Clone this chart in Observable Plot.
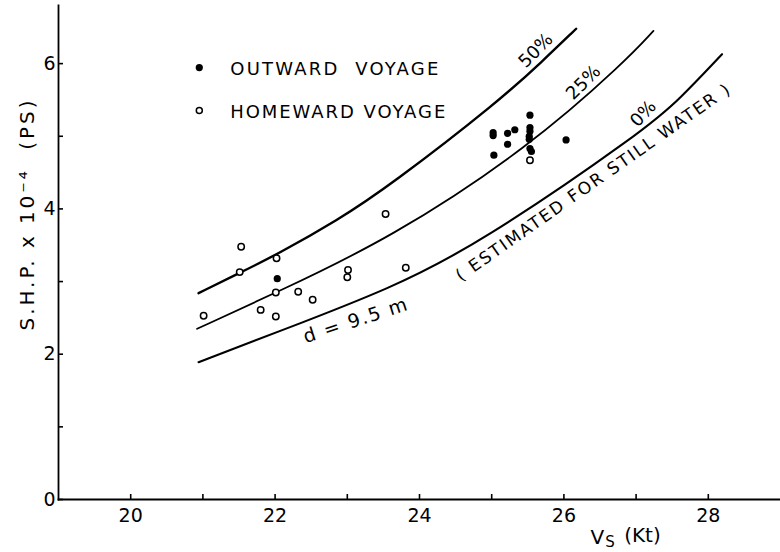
<!DOCTYPE html>
<html><head><meta charset="utf-8">
<script src="https://cdn.jsdelivr.net/npm/d3@7"></script>
<script src="https://cdn.jsdelivr.net/npm/@observablehq/plot@0.6"></script>
<style>
body{margin:0;background:#fff}
#chart svg{font-family:"DejaVu Sans",sans-serif;display:block}
</style>
</head><body><div id="chart"></div>
<script>
// ---- data ----
const xTickValues = [20, 21, 22, 23, 24, 25, 26, 27, 28];
const xTickLabels = [20, 22, 24, 26, 28];
const yTickValues = [0, 1, 2, 3, 4, 5, 6];
const yTickLabels = [0, 2, 4, 6];

const curveLevels = ["50%", "25%", "0%"];
const curve50V = [20.94, 21.51, 22.04, 22.86, 23.59, 25.11, 25.71, 26.17];
const curve50P = [2.84, 3.12, 3.38, 3.84, 4.32, 5.49, 6.04, 6.48];
const curve25V = [20.92, 22.02, 23.59, 25.52, 26.86, 27.24];
const curve25P = [2.35, 2.85, 3.59, 4.85, 6.04, 6.45];
const curve0V  = [20.94, 22.07, 23.59, 24.83, 27.14, 27.60, 28.19];
const curve0P  = [1.89, 2.32, 2.90, 3.52, 5.10, 5.51, 6.13];

const outwardV = [22.03, 25.02, 25.02, 25.22, 25.32, 25.22, 25.03, 25.53, 25.53, 25.53, 25.52, 25.52, 25.53, 25.55, 26.03];
const outwardP = [3.04, 5.05, 5.01, 5.04, 5.09, 4.89, 4.74, 5.29, 5.12, 5.07, 5.00, 4.96, 4.83, 4.79, 4.95];
const homewardV = [21.53, 22.02, 21.51, 22.01, 22.32, 22.52, 21.80, 22.01, 21.01, 23.01, 23.00, 23.81, 23.53, 25.53];
const homewardP = [3.48, 3.32, 3.13, 2.85, 2.86, 2.75, 2.61, 2.52, 2.53, 3.16, 3.06, 3.19, 3.93, 4.67];

const legendLabels = ["OUTWARD\u00a0\u00a0VOYAGE", "HOMEWARD VOYAGE"];
const yLabel = "S.H.P. x 10\u207b\u2074\u00a0 (PS)";
const xLabel = "VS (Kt)";
const noteStill = "( ESTIMATED FOR STILL WATER )";
const noteDraft = "d = 9.5 m";

// ---- tables built from the arrays ----
const curves = [
  ...curve50V.map((v, i) => ({level: curveLevels[0], v, p: curve50P[i]})),
  ...curve25V.map((v, i) => ({level: curveLevels[1], v, p: curve25P[i]})),
  ...curve0V.map((v, i) => ({level: curveLevels[2], v, p: curve0P[i]}))
];
const outward = outwardV.map((v, i) => ({v, p: outwardP[i]}));
const homeward = homewardV.map((v, i) => ({v, p: homewardP[i]}));

// annotation anchors (data units)
const legendAnchors = [{v: 20.95, p: 5.945}, {v: 20.95, p: 5.355}];
const levelLabelAnchors = [
  {text: curveLevels[0], v: 25.61, p: 6.18, r: -45},
  {text: curveLevels[1], v: 26.27, p: 5.74, r: -45},
  {text: curveLevels[2], v: 27.10, p: 5.31, r: -47}
];

const chart = Plot.plot({
  width: 780,
  height: 552,
  marginLeft: 58,
  marginRight: 0,
  marginTop: 5,
  marginBottom: 53,
  x: {domain: [19, 29]},
  y: {domain: [0, 6.8]},
  style: {background: "#fff", color: "#000", fontFamily: "DejaVu Sans"},
  marks: [
    Plot.axisX({ticks: xTickValues, tickSize: -5, tickPadding: 14, fontSize: 19, strokeWidth: 1.6,
      tickFormat: d => xTickLabels.includes(d) ? String(d) : "", label: null}),
    Plot.axisY({ticks: yTickValues, tickSize: -5, tickPadding: 8, fontSize: 19, strokeWidth: 1.6,
      tickFormat: d => yTickLabels.includes(d) ? String(d) : "", label: null}),
    Plot.frame({anchor: "left", strokeWidth: 1.8}),
    Plot.frame({anchor: "bottom", strokeWidth: 1.8}),
    Plot.line(curves.filter(d => d.level === curveLevels[0]), {x: "v", y: "p", curve: "basis", strokeWidth: 2.4}),
    Plot.line(curves.filter(d => d.level === curveLevels[1]), {x: "v", y: "p", curve: "basis", strokeWidth: 1.8}),
    Plot.line(curves.filter(d => d.level === curveLevels[2]), {x: "v", y: "p", curve: "basis", strokeWidth: 2.1}),
    Plot.dot(homeward, {x: "v", y: "p", r: 3.2, stroke: "#000", strokeWidth: 1.5, fill: "#fff"}),
    Plot.dot(outward, {x: "v", y: "p", r: 3.6, fill: "#000", stroke: "none"}),
    // legend
    Plot.dot([legendAnchors[0]], {x: "v", y: "p", r: 3.6, fill: "#000"}),
    Plot.dot([legendAnchors[1]], {x: "v", y: "p", r: 3.0, stroke: "#000", strokeWidth: 1.5, fill: "#fff"}),
    Plot.text(legendLabels.map((t, i) => ({t, ...legendAnchors[i]})), {x: "v", y: "p", text: "t", dx: 31, dy: 1.5,
      textAnchor: "start", lineAnchor: "middle", fontSize: 18}),
    // curve labels
    ...levelLabelAnchors.map(a => Plot.text([a], {x: "v", y: "p", text: "text", rotate: a.r, fontSize: 18, lineAnchor: "middle"})),
    Plot.text([{t: noteStill}], {x: () => 26.40, y: () => 4.36, text: "t", rotate: -35, fontSize: 17, lineAnchor: "middle"}),
    Plot.text([{t: noteDraft}], {x: () => 23.11, y: () => 2.46, text: "t", rotate: -18, fontSize: 19, lineAnchor: "middle"}),
    // axis titles
    Plot.text([{t: xLabel}], {x: () => 26.37, text: "t", frameAnchor: "bottom", textAnchor: "start", lineAnchor: "bottom", dy: 44, fontSize: 20}),
    Plot.text([{t: yLabel}], {y: () => 3.91, text: "t", frameAnchor: "left", textAnchor: "middle", rotate: -90, lineAnchor: "bottom", dx: -25, fontSize: 20})
  ]
});

document.getElementById("chart").appendChild(chart);

// fine typographic tweaks
const lengths = new Map([
  [legendLabels[0], 208], [legendLabels[1], 215], [noteStill, 330], [noteDraft, 108], [yLabel, 230]
]);
d3.select(chart).selectAll("text").each(function() {
  const t = this.textContent;
  if (lengths.has(t)) {
    this.setAttribute("textLength", lengths.get(t));
    this.setAttribute("lengthAdjust", "spacing");
  }
  if (t === xLabel) {
    this.textContent = "V";
    const s = d3.select(this);
    s.append("tspan").attr("dy", "0.25em").attr("dx", "1").attr("font-size", 15).text("S");
    s.append("tspan").attr("dy", "-0.25em").attr("dx", "3").text("\u00a0(Kt)");
  }
});
</script>
</body></html>
